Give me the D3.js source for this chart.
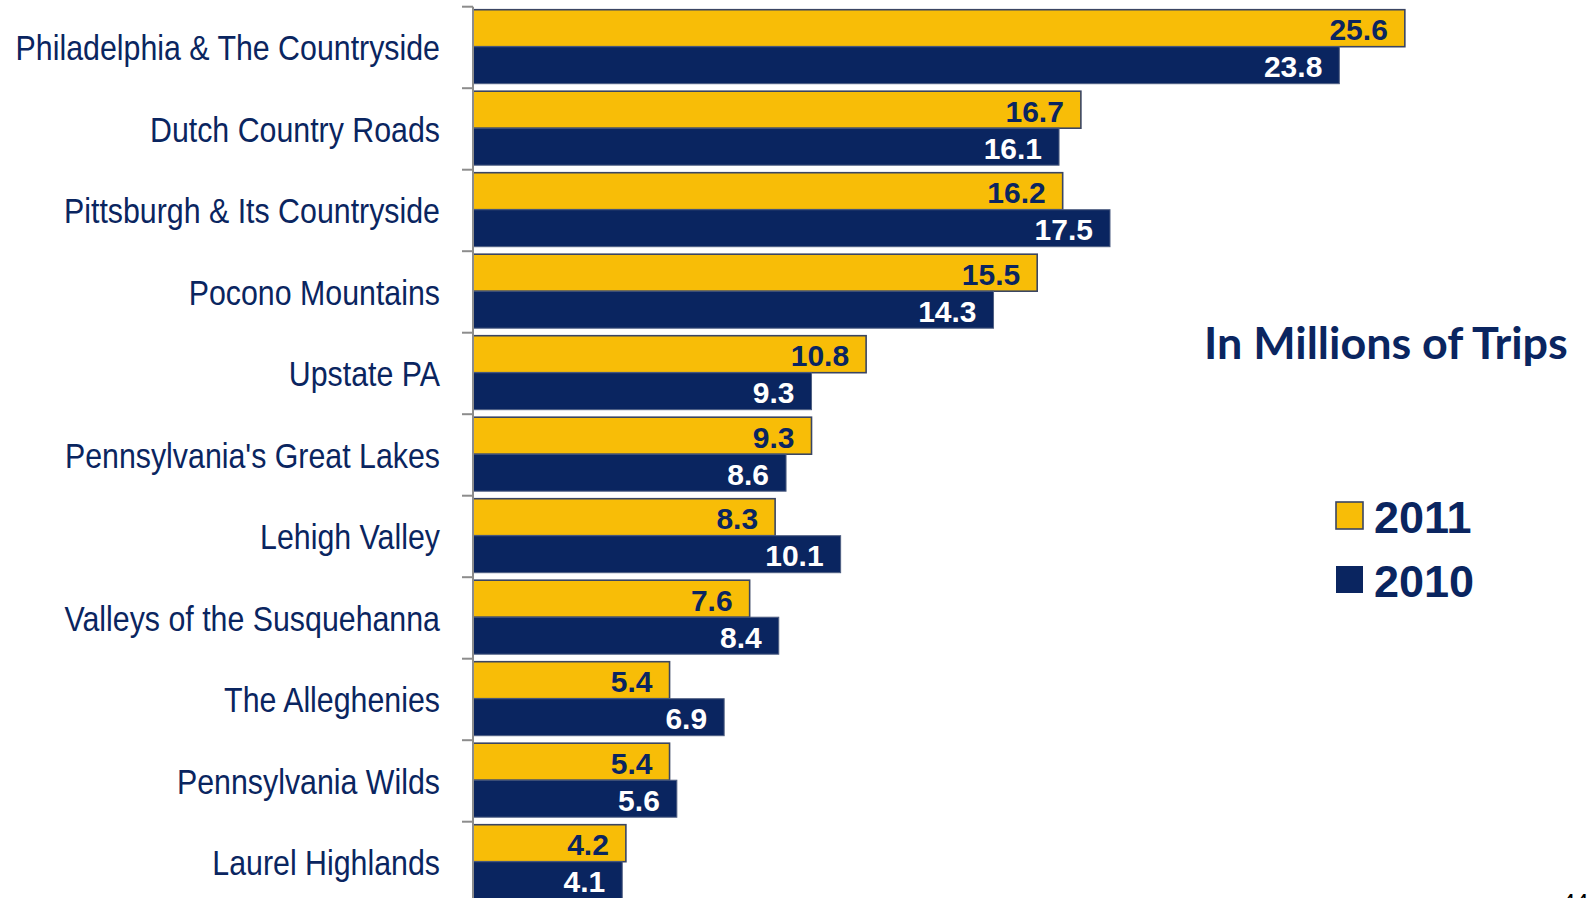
<!DOCTYPE html>
<html>
<head>
<meta charset="utf-8">
<script src="https://cdn.jsdelivr.net/npm/d3@7"></script>
<style>
  html, body { margin: 0; padding: 0; background: #ffffff; }
  svg { display: block; }
</style>
</head>
<body>
<svg id="chart" width="1587" height="898"></svg>
<script>
// Regions of Pennsylvania, overnight + day trips (millions)
const regions = [
  "Philadelphia & The Countryside",
  "Dutch Country Roads",
  "Pittsburgh & Its Countryside",
  "Pocono Mountains",
  "Upstate PA",
  "Pennsylvania's Great Lakes",
  "Lehigh Valley",
  "Valleys of the Susquehanna",
  "The Alleghenies",
  "Pennsylvania Wilds",
  "Laurel Highlands"
];
const trips2011 = [25.6, 16.7, 16.2, 15.5, 10.8, 9.3, 8.3, 7.6, 5.4, 5.4, 4.2];
const trips2010 = [23.8, 16.1, 17.5, 14.3, 9.3, 8.6, 10.1, 8.4, 6.9, 5.6, 4.1];
const seriesNames = ["2011", "2010"];
const unitsNote = "In Millions of Trips";
const pageNumber = "44";

const YELLOW = "#F8BD07";
const NAVY = "#0A2560";

const svg = d3.select("#chart");
svg.append("rect").attr("width", 1587).attr("height", 898).attr("fill", "#fff");

const x0 = 473;
const x = d3.scaleLinear().domain([0, 10]).range([x0, x0 + 364]);
const y = d3.scaleBand().domain(regions).range([6.7, 6.7 + 81.5 * regions.length]).paddingInner(0).paddingOuter(0);
const inner = d3.scaleBand().domain(seriesNames).range([3, 77]).padding(0);

const rows = regions.map((r, i) => ({ region: r, values: [
  { series: "2011", v: trips2011[i] },
  { series: "2010", v: trips2010[i] }
]}));

const groups = svg.append("g").selectAll("g.row")
  .data(rows).join("g")
  .attr("class", "row")
  .attr("transform", d => `translate(0,${y(d.region)})`);

groups.selectAll("rect")
  .data(d => d.values).join("rect")
  .attr("x", x(0))
  .attr("y", d => inner(d.series))
  .attr("width", d => x(d.v) - x(0))
  .attr("height", inner.bandwidth())
  .attr("fill", d => d.series === "2011" ? YELLOW : NAVY)
  .attr("stroke", d => d.series === "2011" ? "#3a4563" : "#4f5f82")
  .attr("stroke-width", d => d.series === "2011" ? 1.6 : 1);

groups.selectAll("text.val")
  .data(d => d.values).join("text")
  .attr("class", "val")
  .attr("x", d => x(d.v) - 17)
  .attr("y", d => inner(d.series) + inner.bandwidth() / 2 + 12)
  .attr("text-anchor", "end")
  .attr("font-family", "Liberation Sans, Arial, sans-serif")
  .attr("font-weight", "bold")
  .attr("font-size", 30)
  .attr("fill", d => d.series === "2011" ? NAVY : "#ffffff")
  .text(d => d.v.toFixed(1));

// Category axis on the left
const axis = svg.append("g").attr("transform", `translate(${x0},0)`);
axis.call(d3.axisLeft(y).tickSize(0).tickFormat(""));
axis.select(".domain").remove();
axis.append("line")
  .attr("x1", 0).attr("x2", 0)
  .attr("y1", y.range()[0]).attr("y2", 898)
  .attr("stroke", "#8c8c8c").attr("stroke-width", 2);
axis.selectAll("line.sep")
  .data(regions).join("line")
  .attr("class", "sep")
  .attr("x1", -11).attr("x2", 0)
  .attr("y1", d => y(d)).attr("y2", d => y(d))
  .attr("stroke", "#8c8c8c").attr("stroke-width", 2);

svg.append("g").selectAll("text.cat")
  .data(regions).join("text")
  .attr("class", "cat")
  .attr("transform", d => `translate(440,${y(d) + y.bandwidth() / 2 + 13}) scale(0.843,1)`)
  .attr("text-anchor", "end")
  .attr("font-family", "Liberation Sans, Arial, sans-serif")
  .attr("font-size", 36)
  .attr("fill", NAVY)
  .text(d => d);

// Units note
const note = svg.append("text")
  .attr("font-family", "Lato, 'Open Sans', sans-serif")
  .attr("font-weight", "bold")
  .attr("font-size", 43)
  .attr("fill", NAVY)
  .text(unitsNote);
const noteW = note.node().getComputedTextLength();
note.attr("transform", `translate(1204,359) scale(${364 / noteW},1)`);

// Legend
const legend = svg.append("g").selectAll("g")
  .data(seriesNames).join("g")
  .attr("transform", (d, i) => `translate(1336,${502 + i * 64})`);
legend.append("rect")
  .attr("width", 27).attr("height", 27)
  .attr("fill", d => d === "2011" ? YELLOW : NAVY)
  .attr("stroke", "#3a4563")
  .attr("stroke-width", d => d === "2011" ? 1.6 : 0);
legend.append("text")
  .attr("x", 38).attr("y", 31)
  .attr("font-family", "Liberation Sans, Arial, sans-serif")
  .attr("font-weight", "bold")
  .attr("font-size", 45)
  .attr("fill", NAVY)
  .text(d => d);

// Slide page number, cut by the bottom edge
svg.append("text")
  .attr("x", 1562).attr("y", 911)
  .attr("font-family", "Liberation Sans, Arial, sans-serif")
  .attr("font-size", 24)
  .attr("fill", "#000")
  .text(pageNumber);
</script>
</body>
</html>
